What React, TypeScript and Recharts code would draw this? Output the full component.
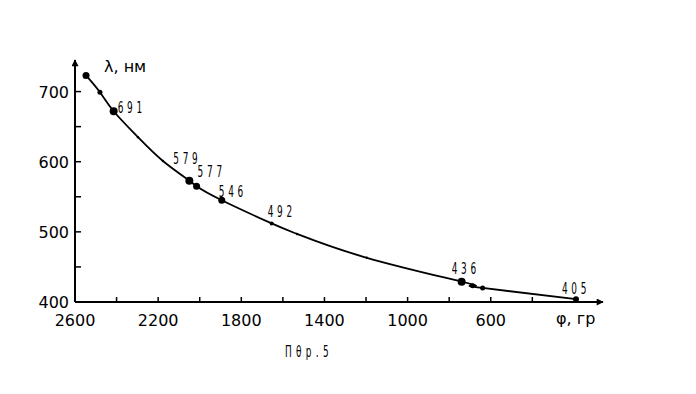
import { LineChart, Line, XAxis, YAxis, LabelList } from "recharts";

// calibration curve: deflection angle φ (гр) vs wavelength λ (нм)
const phi = [2547, 2480, 2414, 2297, 2177, 2050, 2015, 1894, 1654, 1532, 1196, 740, 687, 639, 190];
const lambda = [723, 699, 672, 635, 601, 573, 565, 545, 512, 497, 463, 429, 423, 420, 404];
const lineNames = ["", "", "691", "", "", "579", "577", "546", "492", "", "", "436", "", "", "405"];

const xTicks = [2600, 2400, 2200, 2000, 1800, 1600, 1400, 1200, 1000, 800, 600, 400];
const xLabels = ["2600", "", "2200", "", "1800", "", "1400", "", "1000", "", "600", ""];
const yTicks = [400, 450, 500, 550, 600, 650, 700];
const yLabels = ["400", "", "500", "", "600", "", "700"];

const rows = phi.map((p, i) => ({ phi: p, lambda: lambda[i], name: lineNames[i] }));

// looks only
const dotR = [3.5, 2.5, 4, 1.2, 1.2, 4, 3.5, 3.5, 2, 1.2, 1.2, 4, 2.5, 2.5, 3];
const labelShift = [
  [0, 0], [0, 0], [4, -4], [0, 0], [0, 0], [-16, -23], [1, -15], [-3, -9],
  [-4, -12], [0, 0], [0, 0], [-10, -14], [0, 0], [0, 0], [-14, -11],
];

const axisFont = "'DejaVu Sans', sans-serif";
const handFont = "'Liberation Sans Narrow', 'DejaVu Sans Condensed', sans-serif";

function XTick(props: any) {
  const { x, y, index } = props;
  return (
    <g>
      {index > 0 && <line x1={x} y1={y} x2={x} y2={y - 5} stroke="#000" strokeWidth={1.5} />}
      <text x={x} y={y + 24} textAnchor="middle" fontSize={16} fontFamily={axisFont} fill="#000">
        {xLabels[index]}
      </text>
    </g>
  );
}

function YTick(props: any) {
  const { x, y, index } = props;
  return (
    <g>
      {index > 0 && <line x1={x} y1={y} x2={x + 6} y2={y} stroke="#000" strokeWidth={1.5} />}
      <text x={x - 6} y={y + 6} textAnchor="end" fontSize={16} fontFamily={axisFont} fill="#000">
        {yLabels[index]}
      </text>
    </g>
  );
}

function PointName(props: any) {
  const { x, y, index, value } = props;
  if (!value) return null;
  const [dx, dy] = labelShift[index];
  return (
    <text
      transform={`translate(${x + dx},${y + dy + 6}) scale(0.62,1)`}
      fontSize={16}
      fontFamily={handFont}
      letterSpacing={6}
      fill="#000"
    >
      {value}
    </text>
  );
}

export default function App() {
  return (
    <div style={{ position: "absolute", left: 0, top: 0, width: 696, height: 394, background: "#fff" }}>
      <svg width={0} height={0} style={{ position: "absolute" }}>
        <defs>
          <marker id="arrowHead" viewBox="0 0 10 10" refX="9" refY="5" markerWidth="10" markerHeight="7"
            markerUnits="userSpaceOnUse" orient="auto-start-reverse">
            <path d="M0,0 L10,5 L0,10 z" fill="#000" />
          </marker>
        </defs>
      </svg>
      <LineChart width={696} height={394} data={rows} margin={{ top: 60, right: 93, bottom: 62, left: 35 }}>
        <XAxis
          type="number"
          dataKey="phi"
          domain={[60, 2600]}
          reversed
          ticks={xTicks}
          interval={0}
          height={30}
          tickSize={0}
          tickMargin={0}
          tick={<XTick />}
          axisLine={{ stroke: "#000", strokeWidth: 2, markerEnd: "url(#arrowHead)" }}
          allowDataOverflow
        />
        <YAxis
          type="number"
          dataKey="lambda"
          domain={[400, 745]}
          ticks={yTicks}
          interval={0}
          width={40}
          tickSize={0}
          tickMargin={0}
          tick={<YTick />}
          axisLine={{ stroke: "#000", strokeWidth: 2, markerStart: "url(#arrowHead)" }}
          allowDataOverflow
        />
        <Line
          type="natural"
          dataKey="lambda"
          stroke="#000"
          strokeWidth={1.8}
          isAnimationActive={false}
          dot={(p: any) => <circle key={`d-${p.index}`} cx={p.cx} cy={p.cy} r={dotR[p.index]} fill="#000" />}
          activeDot={false}
        >
          <LabelList dataKey="name" content={<PointName />} />
        </Line>
      </LineChart>
      <div style={{ position: "absolute", left: 104, top: 57, fontFamily: axisFont, fontSize: 16 }}>λ, нм</div>
      <div style={{ position: "absolute", left: 556, top: 309, fontFamily: axisFont, fontSize: 16 }}>φ, гр</div>
      <div
        style={{
          position: "absolute", left: 285, top: 342, fontFamily: handFont, fontSize: 16, letterSpacing: 7,
          transform: "scaleX(0.62)", transformOrigin: "left top", whiteSpace: "pre",
        }}
      >
        Пθр.5
      </div>
    </div>
  );
}
